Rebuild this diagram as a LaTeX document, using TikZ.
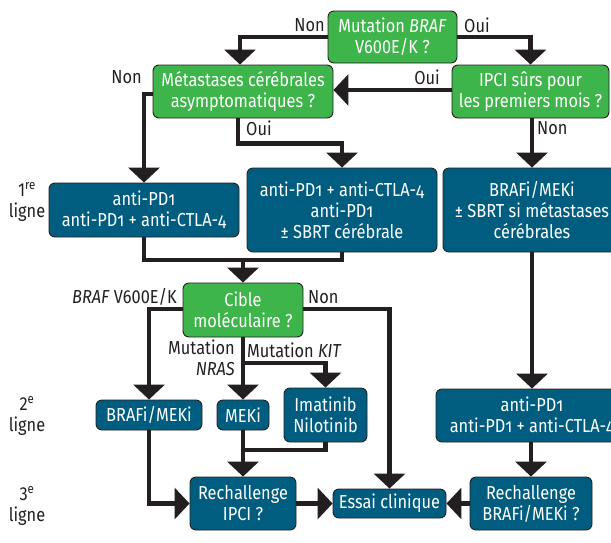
\documentclass[tikz,border=0pt]{standalone}
\usepackage{fontspec}
\setmainfont{Fira Sans}[FakeStretch=0.87]
\usetikzlibrary{arrows.meta}
\definecolor{gboxc}{RGB}{61,181,74}
\definecolor{bboxc}{RGB}{0,93,128}
\definecolor{ink}{RGB}{35,31,32}
\newcommand\osf[1]{{\addfontfeatures{Numbers=OldStyle}#1}}
\newcommand\fsz{\fontsize{18.8}{21}\selectfont}
\begin{document}
\begin{tikzpicture}[x=1pt,y=-1pt,
  box/.style={draw=ink, line width=0.9pt, rounded corners=6pt, text=white, align=center, inner sep=0pt, font=\fsz},
  gbox/.style={box, fill=gboxc},
  bbox/.style={box, fill=bboxc},
  wire/.style={draw=ink, line width=4.6pt},
  arr/.style={wire, -{Triangle[width=31pt,length=15pt]}},
  lbl/.style={text=ink, font=\fsz, inner sep=0pt}]
\clip (0,0) rectangle (611,542);
% nodes
\node[gbox, minimum width=129pt, minimum height=52pt] (n1) at (392.5,37) {Mutation \textit{BRAF}\\V600E/K ?};
\node[gbox, minimum width=180pt, minimum height=53pt] (n2) at (243,91.5) {Métastases cérébrales\\asymptomatiques ?};
\node[gbox, minimum width=157pt, minimum height=53pt] (n3) at (530.5,91.5) {IPCI sûrs pour\\les premiers mois ?};
\node[bbox, minimum width=190pt, minimum height=54pt] (n4) at (144,210) {anti-PD\osf{1}\\anti-PD\osf{1} + anti-CTLA-\osf{4}};
\node[bbox, minimum width=190pt, minimum height=84pt] (n5) at (342,210) {anti-PD\osf{1} + anti-CTLA-\osf{4}\\anti-PD\osf{1}\\± SBRT cérébrale};
\node[bbox, minimum width=178pt, minimum height=84pt] (n6) at (532,210) {BRAFi/MEKi\\± SBRT si métastases\\cérébrales};
\node[gbox, minimum width=120pt, minimum height=54pt] (n7) at (243,310) {Cible\\moléculaire ?};
\node[bbox, minimum width=106pt, minimum height=30pt] (n8) at (149,415) {BRAFi/MEKi};
\node[bbox, minimum width=52pt, minimum height=30pt] (n9) at (243,415) {MEKi};
\node[bbox, minimum width=83pt, minimum height=54pt] (n10) at (325.5,415) {Imatinib\\Nilotinib};
\node[bbox, minimum width=192pt, minimum height=53pt] (n11) at (532,415.5) {anti-PD\osf{1}\\anti-PD\osf{1} + anti-CTLA-\osf{4}};
\node[bbox, minimum width=106pt, minimum height=53pt] (n12) at (243,503.5) {Rechallenge\\IPCI ?};
\node[bbox, minimum width=113pt, minimum height=29pt] (n13) at (389.5,503.5) {Essai clinique};
\node[bbox, minimum width=122pt, minimum height=53pt] (n14) at (531,503.5) {Rechallenge\\BRAFi/MEKi ?};
% connectors
\draw[arr] (n1.west) -| ([xshift=-3pt]n2.north);
\draw[arr] (n1.east) -| (n3.north);
\draw[arr] ([yshift=1.5pt]n3.west) -- ([yshift=1.5pt]n2.east);
\draw[arr] ([yshift=-2.5pt]n2.west) -| (n4.north);
\draw[arr] ([xshift=-5pt]n2.south) -- ++(0,25) -| (n5.north);
\draw[arr] (n3.south -| n6.north) -- (n6.north);
\coordinate (m) at (243,260);
\draw[wire] (n4.south) |- (m) -| (n5.south);
\draw[arr] (m) -- (n7.north);
\draw[arr] ([yshift=1pt]n7.west) -| (n8.north);
\draw[arr] ([yshift=1pt]n7.east) -| (n13.north);
\draw[arr] (n7.south) -- (n9.north);
\coordinate (br) at (243,363);
\draw[arr] (br) -| (n10.north);
\coordinate (jn) at (243,450);
\draw[wire] (n10.south) |- (jn);
\draw[arr] (n9.south) -- (n12.north);
\draw[arr] (n8.south) |- (n12.west);
\draw[arr] (n12.east) -- (n13.west);
\draw[arr] (n6.south) -- (n11.north);
\draw[arr] (n11.south -| n14.north) -- (n14.north);
\draw[arr] (n14.west) -- (n13.east);
% labels
\node[lbl, anchor=east] (l1) at (325,25) {Non};
\node[lbl, anchor=west] (l2) at (464,25) {Oui};
\node[lbl, anchor=east] (l3) at (142,77) {Non};
\node[lbl, anchor=east] (l4) at (440,77) {Oui};
\node[lbl, anchor=west] (l5) at (246,128) {Oui};
\node[lbl, anchor=west] (l6) at (537,128) {Non};
\node[lbl, align=center] (r1) at (27,202) {1\textsuperscript{re}\\ligne};
\node[lbl, align=center] (r2) at (27,416) {2\textsuperscript{e}\\ligne};
\node[lbl, align=center] (r3) at (27,506) {3\textsuperscript{e}\\ligne};
\node[lbl, anchor=east] (l7) at (177,297) {\textit{BRAF} V600E/K};
\node[lbl, anchor=west] (l8) at (308,297) {Non};
\node[lbl, align=right, anchor=east] (l9) at (235,358) {Mutation\\\textit{NRAS}};
\node[lbl, anchor=west] (l10) at (247,350) {Mutation \textit{KIT}};
\end{tikzpicture}
\end{document}
